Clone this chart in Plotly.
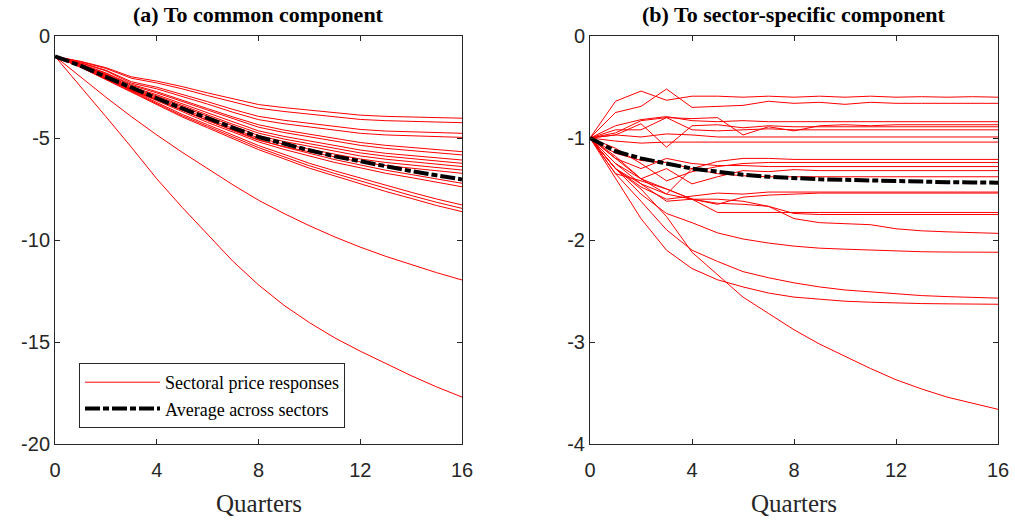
import plotly.graph_objects as go

# Impulse responses of sectoral prices, horizon in quarters
quarters = list(range(17))

# (a) responses to the common component, one list per sector
common_sectors = [
    [-1, -1.24, -1.55, -2.00, -2.21, -2.48, -2.79, -3.09, -3.36, -3.51, -3.64, -3.76, -3.88, -3.94, -3.97, -4.00, -4.03],
    [-1, -1.26, -1.59, -2.07, -2.30, -2.59, -2.92, -3.24, -3.54, -3.70, -3.83, -3.96, -4.09, -4.15, -4.19, -4.22, -4.25],
    [-1, -1.30, -1.68, -2.24, -2.51, -2.85, -3.22, -3.60, -3.94, -4.13, -4.28, -4.43, -4.58, -4.66, -4.69, -4.73, -4.77],
    [-1, -1.32, -1.71, -2.31, -2.59, -2.95, -3.34, -3.74, -4.10, -4.30, -4.45, -4.61, -4.77, -4.85, -4.89, -4.93, -4.97],
    [-1, -1.36, -1.81, -2.37, -2.73, -3.13, -3.56, -3.97, -4.35, -4.61, -4.82, -5.03, -5.22, -5.36, -5.46, -5.57, -5.67],
    [-1, -1.38, -1.84, -2.42, -2.79, -3.21, -3.65, -4.07, -4.47, -4.73, -4.95, -5.16, -5.36, -5.51, -5.61, -5.73, -5.83],
    [-1, -1.40, -1.88, -2.49, -2.88, -3.32, -3.79, -4.23, -4.65, -4.92, -5.15, -5.38, -5.59, -5.75, -5.85, -5.97, -6.08],
    [-1, -1.41, -1.91, -2.54, -2.94, -3.40, -3.88, -4.33, -4.76, -5.05, -5.28, -5.52, -5.73, -5.89, -6.00, -6.13, -6.24],
    [-1, -1.42, -1.93, -2.59, -3.00, -3.47, -3.97, -4.43, -4.88, -5.17, -5.41, -5.66, -5.88, -6.04, -6.16, -6.29, -6.40],
    [-1, -1.43, -1.96, -2.64, -3.06, -3.55, -4.06, -4.54, -5.00, -5.30, -5.55, -5.80, -6.03, -6.20, -6.32, -6.45, -6.57],
    [-1, -1.45, -1.99, -2.69, -3.12, -3.62, -4.15, -4.64, -5.11, -5.42, -5.68, -5.94, -6.17, -6.35, -6.47, -6.61, -6.73],
    [-1, -1.47, -2.03, -2.60, -3.12, -3.64, -4.15, -4.61, -5.08, -5.44, -5.75, -6.06, -6.32, -6.58, -6.79, -7.02, -7.22],
    [-1, -1.48, -2.06, -2.64, -3.17, -3.71, -4.24, -4.71, -5.19, -5.56, -5.88, -6.20, -6.46, -6.73, -6.94, -7.18, -7.39],
    [-1, -1.51, -2.09, -2.67, -3.26, -3.84, -4.35, -4.86, -5.37, -5.80, -6.24, -6.61, -6.97, -7.33, -7.66, -7.99, -8.28],
    [-1, -1.52, -2.12, -2.71, -3.31, -3.91, -4.43, -4.95, -5.47, -5.92, -6.36, -6.74, -7.11, -7.48, -7.82, -8.15, -8.45],
    [-1, -1.53, -2.14, -2.75, -3.36, -3.97, -4.50, -5.03, -5.57, -6.02, -6.48, -6.86, -7.24, -7.62, -7.96, -8.31, -8.61],
    [-1, -2.00, -3.00, -3.95, -4.85, -5.70, -6.50, -7.30, -8.05, -8.70, -9.30, -9.85, -10.35, -10.80, -11.20, -11.60, -11.96],
    [-1, -2.45, -3.95, -5.45, -7.00, -8.40, -9.75, -11.05, -12.20, -13.20, -14.05, -14.80, -15.45, -16.05, -16.65, -17.20, -17.70],
]
common_average = [-1, -1.45, -2.00, -2.55, -3.05, -3.55, -4.05, -4.50, -4.95, -5.30, -5.60, -5.90, -6.15, -6.40, -6.62, -6.83, -7.03]

# (b) responses to the sector-specific component
specific_sectors = [
    [-1, -0.64, -0.54, -0.63, -0.59, -0.59, -0.60, -0.59, -0.60, -0.59, -0.60, -0.59, -0.60, -0.595, -0.60, -0.595, -0.60],
    [-1, -0.75, -0.69, -0.52, -0.70, -0.69, -0.68, -0.64, -0.66, -0.65, -0.67, -0.65, -0.66, -0.66, -0.66, -0.66, -0.66],
    [-1, -0.88, -0.82, -0.79, -0.83, -0.84, -0.83, -0.84, -0.84, -0.84, -0.84, -0.84, -0.84, -0.84, -0.84, -0.84, -0.84],
    [-1, -0.92, -0.92, -0.80, -0.81, -0.80, -0.97, -0.89, -0.93, -0.88, -0.87, -0.88, -0.87, -0.87, -0.87, -0.87, -0.87],
    [-1, -0.97, -0.86, -1.09, -0.88, -0.87, -0.90, -0.88, -0.89, -0.89, -0.89, -0.89, -0.89, -0.89, -0.89, -0.89, -0.89],
    [-1, -0.95, -0.83, -0.80, -0.92, -0.93, -0.92, -0.91, -0.92, -0.92, -0.92, -0.92, -0.92, -0.92, -0.92, -0.92, -0.92],
    [-1, -0.97, -0.99, -0.96, -0.97, -0.99, -0.99, -0.99, -0.99, -0.99, -0.99, -0.99, -0.99, -0.99, -0.99, -0.99, -0.99],
    [-1, -1.03, -1.05, -1.04, -1.04, -1.04, -1.04, -1.04, -1.04, -1.04, -1.04, -1.04, -1.04, -1.04, -1.04, -1.04, -1.04],
    [-1, -1.15, -1.22, -1.24, -1.30, -1.23, -1.20, -1.20, -1.21, -1.21, -1.21, -1.21, -1.21, -1.21, -1.21, -1.21, -1.21],
    [-1, -1.10, -1.25, -1.42, -1.33, -1.28, -1.25, -1.24, -1.24, -1.24, -1.24, -1.24, -1.24, -1.24, -1.24, -1.24, -1.24],
    [-1, -1.20, -1.30, -1.20, -1.25, -1.27, -1.27, -1.28, -1.28, -1.28, -1.28, -1.28, -1.28, -1.28, -1.28, -1.28, -1.28],
    [-1, -1.18, -1.40, -1.30, -1.45, -1.38, -1.32, -1.33, -1.31, -1.32, -1.32, -1.32, -1.32, -1.32, -1.32, -1.32, -1.32],
    [-1, -1.25, -1.45, -1.55, -1.30, -1.35, -1.37, -1.38, -1.38, -1.38, -1.38, -1.38, -1.38, -1.38, -1.38, -1.38, -1.38],
    [-1, -1.30, -1.48, -1.60, -1.57, -1.54, -1.55, -1.53, -1.53, -1.53, -1.53, -1.53, -1.53, -1.53, -1.53, -1.53, -1.53],
    [-1, -1.35, -1.42, -1.50, -1.60, -1.65, -1.58, -1.56, -1.55, -1.54, -1.54, -1.54, -1.54, -1.54, -1.54, -1.54, -1.54],
    [-1, -1.30, -1.45, -1.62, -1.60, -1.73, -1.73, -1.73, -1.73, -1.73, -1.73, -1.73, -1.73, -1.73, -1.73, -1.73, -1.73],
    [-1, -1.20, -1.40, -1.55, -1.60, -1.64, -1.65, -1.67, -1.74, -1.75, -1.75, -1.75, -1.75, -1.75, -1.75, -1.75, -1.75],
    [-1, -1.25, -1.40, -1.50, -1.60, -1.60, -1.62, -1.67, -1.79, -1.83, -1.84, -1.85, -1.89, -1.91, -1.92, -1.93, -1.935],
    [-1, -1.30, -1.55, -1.74, -1.83, -1.93, -1.99, -2.03, -2.06, -2.08, -2.09, -2.10, -2.11, -2.115, -2.118, -2.12, -2.12],
    [-1, -1.35, -1.62, -1.90, -2.10, -2.21, -2.31, -2.37, -2.42, -2.46, -2.49, -2.51, -2.53, -2.545, -2.555, -2.563, -2.57],
    [-1, -1.40, -1.79, -2.10, -2.28, -2.39, -2.46, -2.52, -2.56, -2.58, -2.60, -2.61, -2.62, -2.623, -2.626, -2.628, -2.63],
    [-1, -1.30, -1.50, -1.77, -2.12, -2.34, -2.56, -2.72, -2.88, -3.02, -3.14, -3.26, -3.37, -3.46, -3.54, -3.60, -3.66],
]
specific_average = [-1, -1.13, -1.20, -1.25, -1.30, -1.33, -1.36, -1.38, -1.395, -1.405, -1.41, -1.418, -1.425, -1.43, -1.433, -1.436, -1.438]

panel_titles = ["(a) To common component", "(b) To sector-specific component"]
x_ticks = [0, 4, 8, 12, 16]
y_ticks_a = [0, -5, -10, -15, -20]
y_ticks_b = [0, -1, -2, -3, -4]
x_label = "Quarters"
legend_labels = ["Sectoral price responses", "Average across sectors"]

W, H = 1015, 520
AXIS_COLOR = "#262626"
SERIF = "Liberation Serif, Times New Roman, serif"
SANS = "Liberation Sans, Arial, sans-serif"

# panel boxes in pixels: (left, right), top, bottom
boxes = [(55, 462), (590, 998)]
top_px, bottom_px = 36, 444

fig = go.Figure()

dash_pattern = "15px,3px,6px,3px"

for k, (sectors, avg) in enumerate([(common_sectors, common_average),
                                    (specific_sectors, specific_average)]):
    xa = "x" if k == 0 else "x2"
    ya = "y" if k == 0 else "y2"
    for i, s in enumerate(sectors):
        fig.add_trace(go.Scatter(
            x=quarters, y=s, mode="lines",
            line=dict(color="#ff0000", width=1),
            name=legend_labels[0], legendgroup="sect",
            showlegend=(k == 0 and i == 0),
            xaxis=xa, yaxis=ya, hoverinfo="skip"))
    fig.add_trace(go.Scatter(
        x=quarters, y=avg, mode="lines",
        line=dict(color="#000000", width=4, dash=dash_pattern),
        name=legend_labels[1], legendgroup="avg",
        showlegend=(k == 0),
        xaxis=xa, yaxis=ya, hoverinfo="skip"))

def xdom(i):
    return [boxes[i][0] / W, boxes[i][1] / W]

ydom = [1 - bottom_px / H, 1 - top_px / H]

common_axis = dict(
    showline=True, linecolor=AXIS_COLOR, linewidth=1, mirror="ticks",
    ticks="inside", ticklen=5, tickwidth=1, tickcolor=AXIS_COLOR,
    showgrid=False, zeroline=False, automargin=False,
    tickfont=dict(family=SANS, size=20, color=AXIS_COLOR),
)

layout_axes = {}
for k in range(2):
    sfx = "" if k == 0 else "2"
    yt = y_ticks_a if k == 0 else y_ticks_b
    layout_axes["xaxis" + sfx] = dict(
        common_axis, domain=xdom(k), range=[0, 16],
        tickvals=x_ticks, ticktext=[str(v) for v in x_ticks],
        anchor="y" + sfx, ticklabelstandoff=8)
    layout_axes["yaxis" + sfx] = dict(
        common_axis, domain=ydom, range=[yt[-1], yt[0]],
        tickvals=yt, ticktext=[str(v) for v in yt],
        anchor="x" + sfx, ticklabelstandoff=0)

annotations = []
for k in range(2):
    cx = (boxes[k][0] + boxes[k][1]) / 2 / W
    annotations.append(dict(
        text="<b>" + panel_titles[k] + "</b>", x=cx, y=1 - 14 / H,
        xref="paper", yref="paper", showarrow=False,
        xanchor="center", yanchor="middle",
        font=dict(family=SERIF, size=22, color="#000000")))
    annotations.append(dict(
        text=x_label, x=cx, y=1 - 503 / H,
        xref="paper", yref="paper", showarrow=False,
        xanchor="center", yanchor="middle",
        font=dict(family=SERIF, size=25, color="#262626")))

fig.update_layout(
    width=W, height=H, autosize=False,
    margin=dict(l=0, r=0, t=0, b=0),
    paper_bgcolor="white", plot_bgcolor="white",
    annotations=annotations,
    legend=dict(
        x=79 / W, y=1 - 363 / H, xanchor="left", yanchor="top",
        bgcolor="white", bordercolor=AXIS_COLOR, borderwidth=1,
        font=dict(family=SERIF, size=18, color="#000000"),
        itemwidth=75, tracegroupgap=0,
    ),
    **layout_axes,
)

fig.write_html("out.html")
